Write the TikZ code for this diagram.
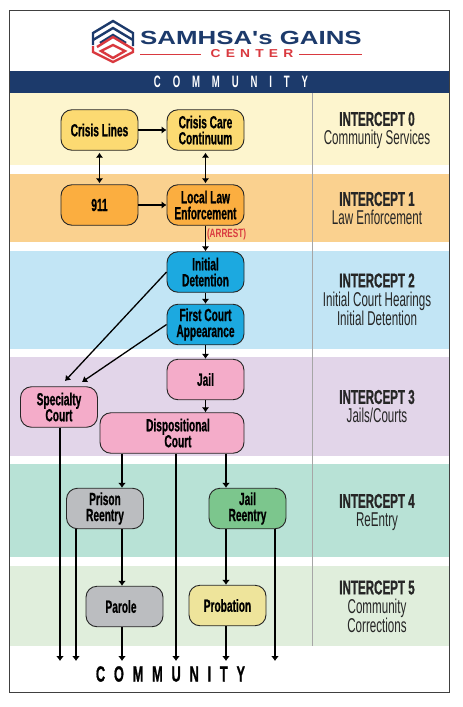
\documentclass[tikz,border=0pt]{standalone}
\usepackage{fontspec}
\usetikzlibrary{arrows.meta}
\setmainfont{Liberation Sans}
\newfontfamily\condfont{Liberation Sans}[FakeStretch=0.58,BoldFeatures={FakeStretch=0.58,FakeBold=0.8}]
\newfontfamily\arrestfont{Liberation Sans}[FakeStretch=0.68]
\newfontfamily\logofont{Liberation Sans}[FakeStretch=1.36]
\newfontfamily\topspacefont{Liberation Sans}[FakeStretch=0.58,LetterSpace=72]
\newfontfamily\bottomspacefont{Liberation Sans}[FakeStretch=0.58,BoldFeatures={FakeStretch=0.58,FakeBold=0.8},LetterSpace=40]
\newfontfamily\centerfont{Liberation Sans}[FakeStretch=1.2,LetterSpace=45]
\definecolor{navy}{HTML}{1C3A6B}
\definecolor{logored}{HTML}{D9393F}
\definecolor{bandzero}{HTML}{FDF5CE}
\definecolor{bandone}{HTML}{FAD18F}
\definecolor{bandtwo}{HTML}{C2E5F5}
\definecolor{bandthree}{HTML}{E2D5E9}
\definecolor{bandfour}{HTML}{B8E2D6}
\definecolor{bandfive}{HTML}{E0EEDC}
\definecolor{boxyellow}{HTML}{FCDA72}
\definecolor{boxorange}{HTML}{FBAE40}
\definecolor{boxblue}{HTML}{1CA9E0}
\definecolor{boxpink}{HTML}{F4ACC9}
\definecolor{boxgrey}{HTML}{BBBDC0}
\definecolor{boxgreen}{HTML}{7CC68D}
\definecolor{boxpale}{HTML}{EEE49B}
\tikzset{
  stagebox/.style={draw=black!85,line width=0.9pt,rounded corners=11pt,minimum width=77pt,minimum height=40.5pt,
    inner sep=0pt,align=center,font=\condfont\bfseries\fontsize{17.5}{16}\selectfont},
  intercept/.style={align=center,font=\condfont\fontsize{20}{19}\selectfont,text=black!85},
  flow/.style={-{Latex[length=5pt,width=7.5pt]},line width=1.3pt,black},
  twoflow/.style={{Latex[length=5pt,width=7.5pt]}-{Latex[length=5pt,width=7.5pt]},line width=1.3pt,black},
  heavyflow/.style={-{Latex[length=5pt,width=8pt]},line width=1.6pt,black},
}
\begin{document}
\begin{tikzpicture}[x=1pt,y=-1pt]
\useasboundingbox (0,0) rectangle (463,707);
\fill[white] (0,0) rectangle (463,707);

\fill[navy] (9.5,71) rectangle (449,93);
\fill[bandzero] (9.5,93) rectangle (449,165);
\fill[bandone] (9.5,174) rectangle (449,242);
\fill[bandtwo] (9.5,251) rectangle (449,349);
\fill[bandthree] (9.5,357) rectangle (449,456);
\fill[bandfour] (9.5,464) rectangle (449,557);
\fill[bandfive] (9.5,566) rectangle (449,646);
\draw[black!35,line width=0.6pt] (312,93) -- (312,646);
\draw[black!75,line width=1pt] (9.5,10) rectangle (449,692);

\draw[navy,line width=2.4pt] (93,45) -- (93,33) -- (113,21) -- (133,33) -- (133,46);
\draw[navy,line width=2.4pt] (93,40) -- (113,28) -- (133,40);
\draw[navy,line width=2.4pt] (100,43) -- (113,35) -- (126,43);
\draw[logored,line width=2.4pt] (93,46) -- (93,52) -- (113,62) -- (133,52) -- (133,49) -- (113,37) -- (97,47);
\draw[logored,line width=2.4pt] (101,51) -- (113,45) -- (125,51) -- (113,58) -- cycle;
\node (logotitle) at (251,38) [font=\logofont\bfseries\fontsize{19}{19}\selectfont,text=navy]{SAMHSA's GAINS};
\node (logocenter) at (252,54) [font=\centerfont\bfseries\fontsize{11.5}{12}\selectfont,text=logored]{CENTER};
\draw[logored,line width=0.7pt] (140,54) -- (201,54);
\draw[logored,line width=0.7pt] (299,54) -- (362,54);

\node (commtop) at (231,82) [font=\topspacefont\bfseries\fontsize{16.5}{15}\selectfont,text=white]{COMMUNITY};
\node (commbottom) at (170.5,674) [font=\bottomspacefont\bfseries\fontsize{22}{16}\selectfont,text=black]{COMMUNITY};

\node (lines) at (99.5,130) [stagebox,fill=boxyellow]{Crisis Lines};
\node (care) at (205.5,130) [stagebox,fill=boxyellow]{Crisis Care\\Continuum};
\node (nine) at (99.5,205) [stagebox,fill=boxorange]{911};
\node (police) at (205.5,205) [stagebox,fill=boxorange]{Local Law\\Enforcement};
\node (detention) at (205.5,272) [stagebox,fill=boxblue]{Initial\\Detention};
\node (appearance) at (205.5,324.5) [stagebox,fill=boxblue]{First Court\\Appearance};
\node (jail) at (205.5,379.5) [stagebox,fill=boxpink]{Jail};
\node (specialty) at (59,407) [stagebox,fill=boxpink]{Specialty\\Court};
\node (dispositional) at (172,433) [stagebox,fill=boxpink,minimum width=144pt]{\hspace*{12pt}Dispositional\\\hspace*{12pt}Court};
\node (prison) at (105,508.5) [stagebox,fill=boxgrey]{Prison\\Reentry};
\node (jailre) at (247.5,508.5) [stagebox,fill=boxgreen]{Jail\\Reentry};
\node (parole) at (124.5,606.5) [stagebox,fill=boxgrey]{\hspace*{-7pt}Parole};
\node (probation) at (227.5,605.5) [stagebox,fill=boxpale]{Probation};

\node (arrest) at (226.5,234) [font=\arrestfont\bfseries\fontsize{12}{10}\selectfont,text=logored]{(ARREST)};

\node (int0) at (377,130.5) [intercept]{{\bfseries INTERCEPT 0}\\Community Services};
\node (int1) at (377,208.5) [intercept]{{\bfseries INTERCEPT 1}\\Law Enforcement};
\node (int2) at (377,299.5) [intercept]{{\bfseries INTERCEPT 2}\\Initial Court Hearings\\Initial Detention};
\node (int3) at (377,406.5) [intercept]{{\bfseries INTERCEPT 3}\\Jails/Courts};
\node (int4) at (377,512.5) [intercept]{{\bfseries INTERCEPT 4}\\ReEntry};
\node (int5) at (377,606.5) [intercept]{{\bfseries INTERCEPT 5}\\Community\\Corrections};

\coordinate (spectipa) at (65,381);
\coordinate (spectipb) at (82,382);
\coordinate (outline) at (0,661);
\coordinate (colprison) at (122,0);
\coordinate (colout) at (176,0);
\coordinate (coljail) at (226,0);
\coordinate (colleft) at (76,0);
\coordinate (colright) at (275,0);
\coordinate (colspecial) at (60,0);

\draw[flow] (lines) -- (care);
\draw[flow] (nine) -- (police);
\draw[twoflow,shorten <=2pt,shorten >=1pt] (lines) -- (nine);
\draw[twoflow,shorten <=2pt,shorten >=1pt] (care) -- (police);
\draw[flow] (police) -- (detention);
\draw[flow] (detention) -- (appearance);
\draw[flow] (appearance) -- (jail);
\draw[flow] (jail.south) -- (jail.south |- dispositional.north);
\draw[flow] (detention.west) -- (spectipa);
\draw[flow] (appearance.west) -- (spectipb);

\draw[heavyflow] (dispositional.south -| colprison) -- (prison.north -| colprison);
\draw[heavyflow] (dispositional.south -| coljail) -- (jailre.north -| coljail);
\draw[heavyflow] (prison.south -| colprison) -- (parole.north -| colprison);
\draw[heavyflow] (jailre.south -| coljail) -- (probation.north -| coljail);
\draw[heavyflow] (specialty.south -| colspecial) -- (outline -| colspecial);
\draw[heavyflow] (prison.south -| colleft) -- (outline -| colleft);
\draw[heavyflow] (parole.south -| colprison) -- (outline -| colprison);
\draw[heavyflow] (dispositional.south -| colout) -- (outline -| colout);
\draw[heavyflow] (probation.south -| coljail) -- (outline -| coljail);
\draw[heavyflow] (jailre.south -| colright) -- (outline -| colright);
\end{tikzpicture}
\end{document}
